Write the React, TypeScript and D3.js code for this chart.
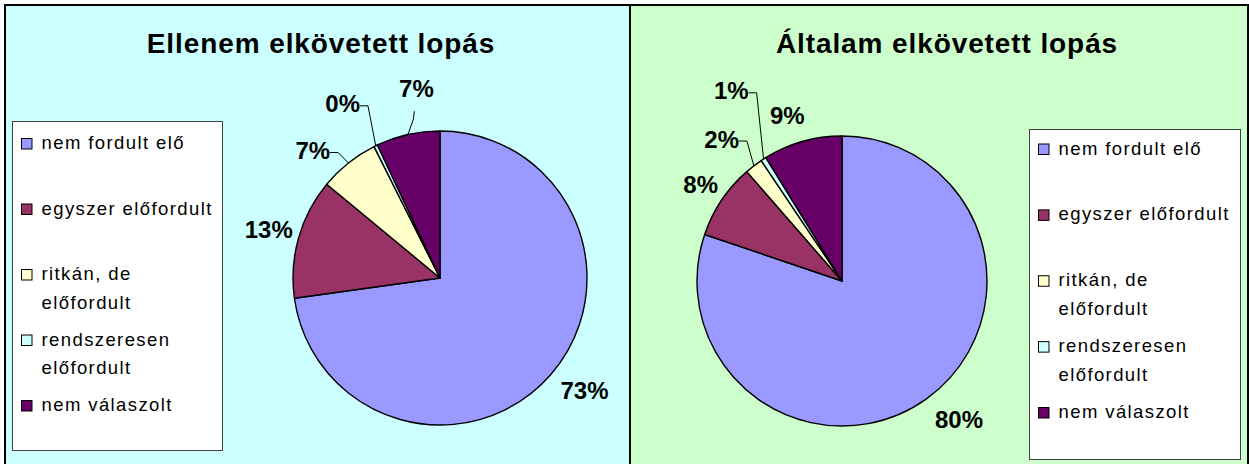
import React from "react";
import * as d3 from "d3";

const categories = [
  "nem fordult elő",
  "egyszer előfordult",
  "ritkán, de előfordult",
  "rendszeresen előfordult",
  "nem válaszolt",
];
const sliceColors = ["#9999FF", "#993366", "#FFFFCC", "#CCFFFF", "#660066"];
const ellenemValues = [72.8, 13.2, 6.6, 0.4, 7.0];
const altalamValues = [80.2, 8.4, 2.0, 0.6, 8.8];
const titles = ["Ellenem elkövetett lopás", "Általam elkövetett lopás"];

const FONT = "Arial, 'Liberation Sans', sans-serif";

type Leader = "none" | "side" | "below";
interface PanelCfg {
  x: number;
  w: number;
  bg: string;
  title: string;
  titleX: number;
  values: number[];
  cx: number;
  cy: number;
  r: number;
  legend: { x: number; y: number; w: number; h: number; first: number; last: number };
  offsets: [number, number][];
  leaders: Leader[];
}

function wrap(s: string, max: number): string[] {
  const words = s.split(" ");
  const lines: string[] = [];
  let cur = "";
  for (const w of words) {
    const next = cur ? cur + " " + w : w;
    if (next.length > max && cur) {
      lines.push(cur);
      cur = w;
    } else cur = next;
  }
  if (cur) lines.push(cur);
  return lines;
}

function labelWidth(t: string) {
  let w = 0;
  for (const c of t) w += c === "%" ? 0.889 : 0.556;
  return w * 24;
}

function Panel({ p }: { p: PanelCfg }) {
  const arcs = d3.pie<number>().sort(null).value((d) => d)(p.values);
  const arc = d3.arc<d3.PieArcDatum<number>>().innerRadius(0).outerRadius(p.r);
  const total = d3.sum(p.values);
  const ly = d3.scaleLinear().domain([0, categories.length - 1]).range([p.legend.first, p.legend.last]);
  return (
    <g>
      <rect x={p.x} y={5} width={p.w} height={475} fill={p.bg} stroke="#000" strokeWidth={2} />
      <text
        x={p.titleX}
        y={53}
        textAnchor="middle"
        fontFamily={FONT}
        fontWeight="bold"
        fontSize={28}
        letterSpacing={0.9}
      >
        {p.title}
      </text>
      <g transform={`translate(${p.cx},${p.cy})`}>
        {arcs.map((a, i) => (
          <path key={i} d={arc(a) || ""} fill={sliceColors[i]} stroke="#000" strokeWidth={1.4} strokeLinejoin="round" />
        ))}
        {arcs.map((a, i) => {
          const mid = (a.startAngle + a.endAngle) / 2;
          const lr = p.r + 30;
          const x = Math.sin(mid) * lr + p.offsets[i][0];
          const y = -Math.cos(mid) * lr + p.offsets[i][1];
          const txt = Math.round((a.value / total) * 100) + "%";
          const ax = Math.sin(mid) * p.r;
          const ay = -Math.cos(mid) * p.r;
          let leader = null;
          if (p.leaders[i] === "side") {
            const rx = x + labelWidth(txt) / 2;
            leader = (
              <polyline
                points={`${rx},${y + 2} ${rx + 8},${y + 2} ${ax},${ay}`}
                fill="none"
                stroke="#000"
                strokeWidth={1}
              />
            );
          } else if (p.leaders[i] === "below") {
            leader = (
              <polyline
                points={`${x - 2},${y + 23} ${x - 3},${y + 31} ${ax},${ay}`}
                fill="none"
                stroke="#000"
                strokeWidth={1}
              />
            );
          }
          return (
            <g key={"l" + i}>
              {leader}
              <text
                x={x}
                y={y}
                dy="0.36em"
                textAnchor="middle"
                fontFamily={FONT}
                fontWeight="bold"
                fontSize={24}
              >
                {txt}
              </text>
            </g>
          );
        })}
      </g>
      <rect
        x={p.legend.x}
        y={p.legend.y}
        width={p.legend.w}
        height={p.legend.h}
        fill="#fff"
        stroke="#404040"
        strokeWidth={1}
      />
      {categories.map((c, i) => {
        const cyy = ly(i);
        const lines = wrap(c, 18);
        return (
          <g key={"lg" + i}>
            <rect
              x={p.legend.x + 9}
              y={cyy - 5}
              width={10.5}
              height={10.5}
              fill={sliceColors[i]}
              stroke="#000"
              strokeWidth={1}
            />
            {lines.map((ln, j) => (
              <text
                key={j}
                x={p.legend.x + 29}
                y={cyy + 5.5 + j * 28.5}
                fontFamily={FONT}
                fontSize={18.5}
                letterSpacing={1.4}
              >
                {ln}
              </text>
            ))}
          </g>
        );
      })}
    </g>
  );
}

const panels: PanelCfg[] = [
  {
    x: 5,
    w: 625,
    bg: "#CCFFFF",
    title: titles[0],
    titleX: 321,
    values: ellenemValues,
    cx: 440,
    cy: 278,
    r: 147,
    legend: { x: 12.5, y: 121.5, w: 210, h: 329, first: 143.5, last: 405.5 },
    offsets: [
      [11, -4],
      [-1, 0],
      [-17, 11],
      [-20, -15],
      [15, -17],
    ],
    leaders: ["none", "none", "side", "side", "below"],
  },
  {
    x: 630,
    w: 618,
    bg: "#CCFFCC",
    title: titles[1],
    titleX: 947,
    values: altalamValues,
    cx: 842,
    cy: 281,
    r: 145,
    legend: { x: 1029.5, y: 129.5, w: 211, h: 330, first: 149, last: 412.5 },
    offsets: [
      [15, -4],
      [4, 1],
      [-14, -3],
      [-16, -43],
      [-7, 3],
    ],
    leaders: ["none", "none", "side", "side", "none"],
  },
];

export default function App() {
  return (
    <svg
      width={1249}
      height={464}
      style={{ position: "absolute", left: 0, top: 0, display: "block" }}
    >
      <rect x={0} y={0} width={1249} height={464} fill="#fff" />
      {panels.map((p, i) => (
        <Panel key={i} p={p} />
      ))}
    </svg>
  );
}
